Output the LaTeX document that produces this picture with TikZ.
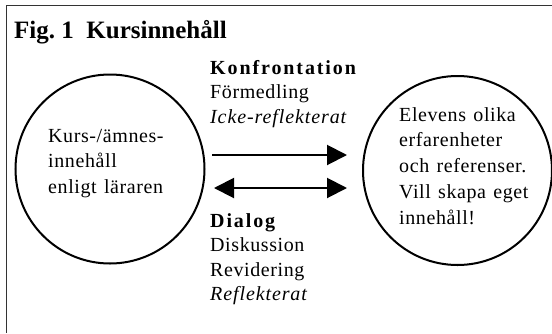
\documentclass[tikz,border=0pt]{standalone}
\usepackage{fontspec}
\setmainfont{Liberation Serif}[LetterSpace=3,WordSpace=1.3,BoldFeatures={LetterSpace=9.5},ItalicFeatures={LetterSpace=4.5}]
\newfontfamily\titlefont{Liberation Serif}
\usetikzlibrary{arrows.meta}
\begin{document}
\begin{tikzpicture}[x=1pt,y=1pt,
  frame/.style={line width=1.5pt, draw=black!80},
  ring/.style={circle, draw, line width=2pt, minimum size=189pt, inner sep=0pt},
  txt/.style={anchor=base west, inner sep=0pt, align=left, font=\fontsize{20}{24.5}\selectfont},
  ctxt/.style={txt, font=\fontsize{20}{25.9}\selectfont},
  arr/.style={line width=2pt, -{Triangle[length=20pt,width=20pt]}},
  darr/.style={line width=2pt, {Triangle[length=20pt,width=20pt]}-{Triangle[length=20pt,width=20pt]}}]
\useasboundingbox (0,0) rectangle (552,-333);
\coordinate (f1) at (6.5,-5.5);
\coordinate (f2) at (552,-5.5);
\coordinate (f3) at (6.5,-333);
\draw[frame] (f2) -- (f1) -- (f3);
\node[anchor=base west, inner sep=0pt, font=\titlefont\bfseries\fontsize{25}{30}\selectfont] (title) at (14,-38) {Fig.\ 1\ \ Kursinnehåll};
\node[ring] (L) at (110,-169) {};
\node[ring] (R) at (457.5,-170.5) {};
% base anchor of a multi-line node is the baseline of its last line
\node[ctxt] (Ltext) at (48,-193.8) {Kurs-/ämnes-\\innehåll\\enligt läraren};
\node[ctxt] (Rtext) at (399,-224.6) {Elevens olika\\erfarenheter\\och referenser.\\Vill skapa eget\\innehåll!};
\node[txt] (konf) at (210,-123) {\textbf{Konfrontation}\\Förmedling\\\textit{Icke-reflekterat}};
\node[txt] (dial) at (210,-300.5) {\textbf{Dialog}\\Diskussion\\Revidering\\\textit{Reflekterat}};
\coordinate (a1) at (212,-155);
\coordinate (a2) at (347,-155);
\coordinate (b1) at (214,-188);
\coordinate (b2) at (347,-188);
\draw[arr] (a1) -- (a2);
\draw[darr] (b1) -- (b2);
\end{tikzpicture}
\end{document}
